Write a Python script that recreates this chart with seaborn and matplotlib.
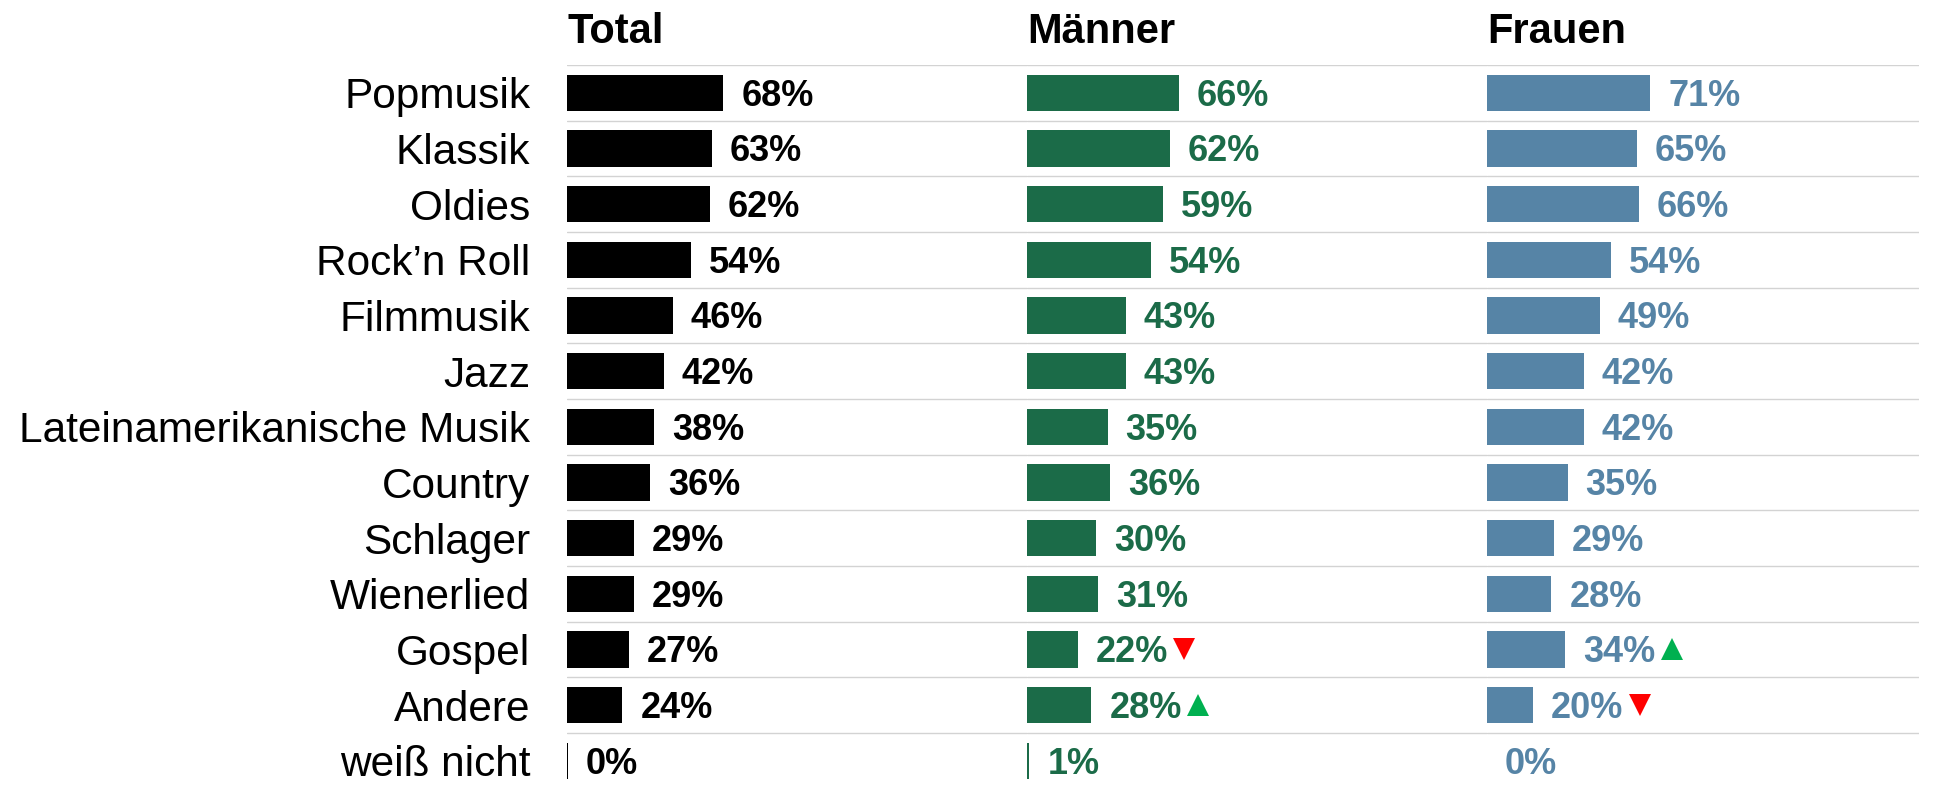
import matplotlib
matplotlib.use("Agg")
import matplotlib.pyplot as plt
import numpy as np
import pandas as pd
import seaborn as sns

# Musikvorlieben nach Geschlecht (Anteile in %)
categories = [
    "Popmusik", "Klassik", "Oldies", "Rock’n Roll", "Filmmusik", "Jazz",
    "Lateinamerikanische Musik", "Country", "Schlager", "Wienerlied",
    "Gospel", "Andere", "weiß nicht",
]
total = [68, 63, 62, 54, 46, 42, 38, 36, 29, 29, 27, 24, 0.4]
maenner = [66, 62, 59, 54, 43, 43, 35, 36, 30, 31, 22, 28, 1]
frauen = [71, 65, 66, 54, 49, 42, 42, 35, 29, 28, 34, 20, 0]
trend_maenner = [None] * 10 + ["down", "up", None]
trend_frauen = [None] * 10 + ["up", "down", None]
headers = ["Total", "Männer", "Frauen"]

sns.set_theme(style="white")
plt.rcParams["font.family"] = ["Liberation Sans", "DejaVu Sans"]

W, H = 1954, 785
fig = plt.figure(figsize=(W / 100, H / 100), dpi=100)

top_px = 65.0
row_px = 55.66
ax_top = 1 - top_px / H
y_bottom = (H - top_px) / row_px - 0.5
px_per_pct = 2.3

panels = [
    (567, 460, total, "#000000", None),
    (1027, 460, maenner, "#1B6B48", trend_maenner),
    (1487, 432, frauen, "#5684A6", trend_frauen),
]
trend_colors = {"up": "#00B050", "down": "#FF0000"}
trend_markers = {"up": "^", "down": "v"}

axes = []
labels = []
for k, (left, width, vals, color, trend) in enumerate(panels):
    ax = fig.add_axes([left / W, 0, width / W, ax_top])
    df = pd.DataFrame({"Kategorie": categories, "Anteil": vals})
    sns.barplot(data=df, x="Anteil", y="Kategorie", orient="h", color=color,
                saturation=1, width=0.65, linewidth=0, ax=ax)
    ax.set_xlim(0, width / px_per_pct)
    ax.set_ylim(y_bottom, -0.5)
    for y in np.arange(-0.5, len(categories) - 1, 1):
        ax.axhline(y, color="#D3D3D3", lw=1.0, zorder=0)
    for s in ax.spines.values():
        s.set_visible(False)
    ax.set_xticks([])
    ax.set_xlabel("")
    ax.set_ylabel("")
    if k == 0:
        ax.tick_params(axis="y", length=0, pad=26.5, labelsize=30.5, colors="black")
    else:
        ax.set_yticks([])
    panel_labels = []
    for i, v in enumerate(vals):
        t = ax.annotate(f"{v:.0f}%", xy=(v, i), xytext=(13, -9.3),
                        textcoords="offset points", ha="left", va="baseline",
                        fontsize=26, fontweight="bold", color=color)
        panel_labels.append(t)
    axes.append(ax)
    labels.append(panel_labels)
    fig.text(left / W, 1 - 43 / H, headers[k], fontsize=30, fontweight="bold",
             ha="left", va="baseline", color="black")

# Trendpfeile direkt hinter den Prozentwerten
fig.canvas.draw()
renderer = fig.canvas.get_renderer()
ms = 16
ms_px = ms * 100 / 72
for k, (left, width, vals, color, trend) in enumerate(panels):
    if trend is None:
        continue
    ax = axes[k]
    for i, tr in enumerate(trend):
        if tr is None:
            continue
        bb = labels[k][i].get_window_extent(renderer)
        row_disp = ax.transData.transform((0, i))[1]
        x_disp = bb.x1 + 5 + ms_px / 2
        xd, yd = ax.transData.inverted().transform((x_disp, row_disp))
        ax.plot([xd], [yd], marker=trend_markers[tr], ms=ms, color=trend_colors[tr],
                markeredgewidth=0, linestyle="none", clip_on=False)

fig.savefig("out.png", dpi=100)
